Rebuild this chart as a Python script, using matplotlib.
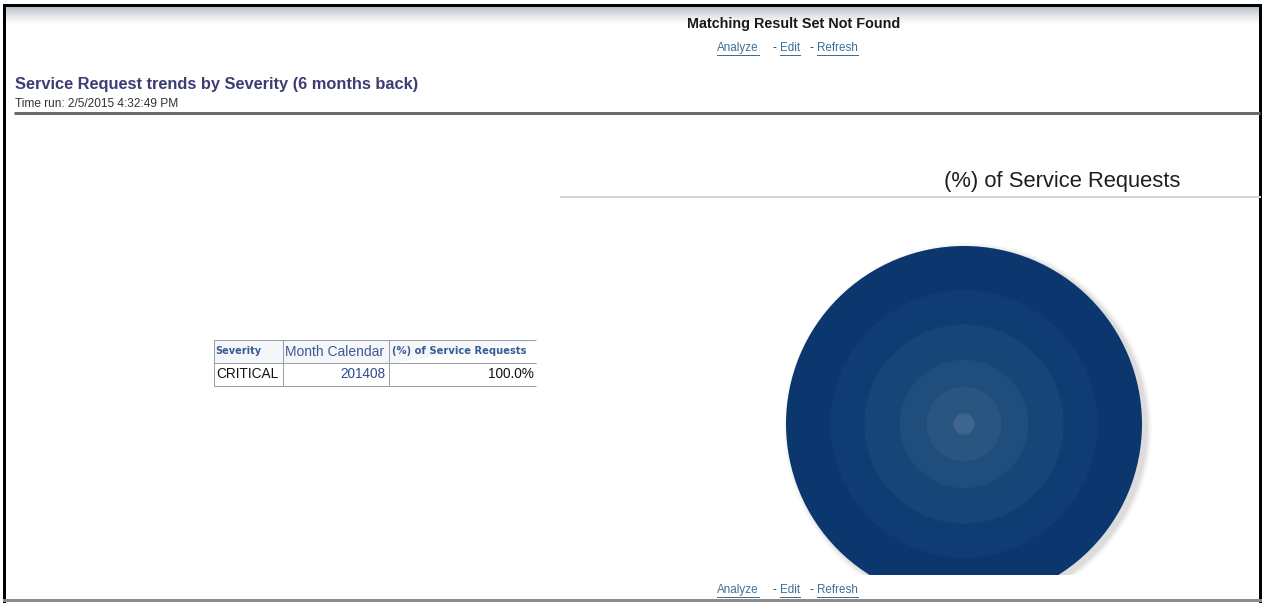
import numpy as np
import matplotlib
matplotlib.use('Agg')
import matplotlib.pyplot as plt

# report rows
severity = ['CRITICAL']
month_calendar = ['201408']
pct_requests = [100.0]

col_labels = ['Severity', 'Month Calendar', '(%) of Service Requests']
report_title = 'Service Request trends by Severity (6 months back)'
time_run = 'Time run: 2/5/2015 4:32:49 PM'
no_result_msg = 'Matching Result Set Not Found'
chart_title = '(%) of Service Requests'
links = ['Analyze', 'Edit', 'Refresh']

W, H = 1264, 604
PX = 0.72  # points per pixel at dpi=100

fig = plt.figure(figsize=(W / 100, H / 100), dpi=100)
fig.patch.set_facecolor('white')

# page canvas in pixel units, y downwards
ax = fig.add_axes([0, 0, 1, 1])
ax.set_xlim(0, W)
ax.set_ylim(H, 0)
ax.axis('off')

# header band gradient
grad = np.linspace(0, 1, 64).reshape(-1, 1)
top_c = np.array([0.70, 0.73, 0.77])
band = top_c + (1 - top_c) * grad[..., None] ** 0.8
band = np.repeat(band, 4, axis=1)
ax.imshow(band, extent=[4, 1260, 24, 6], aspect='auto', zorder=0)

# page frame
ax.plot([4, 1260], [5, 5], color='black', lw=3 * PX, solid_capstyle='butt')
ax.plot([4, 4], [5, 601], color='black', lw=3 * PX)
ax.plot([1260, 1260], [5, 601], color='black', lw=3 * PX)
ax.plot([4, 1260], [600, 600], color='#8c8c8c', lw=3 * PX)

base_font = ['Liberation Sans', 'DejaVu Sans']
wide_font = ['DejaVu Sans']
link_color = '#3f6f95'

ax.text(794, 24, no_result_msg, ha='center', va='center', fontsize=10.4,
        fontweight='bold', color='#1a1a1a', family=base_font)


def draw_links(y):
    xs = [717, 780, 817]
    for i, (word, x0) in enumerate(zip(links, xs)):
        t = ax.text(x0, y, word, ha='left', va='center', fontsize=8.4,
                    color=link_color, family=base_font)
        fig.canvas.draw()
        bb = t.get_window_extent(renderer=fig.canvas.get_renderer())
        inv = ax.transData.inverted()
        (xa, ya), (xb, yb) = inv.transform([[bb.x0, bb.y0], [bb.x1, bb.y1]])
        ax.plot([xa, xb], [ya + 1, ya + 1], color=link_color, lw=1 * PX)
        if i < len(links) - 1:
            ax.text(xs[i + 1] - 4, y, '-', ha='right', va='center',
                    fontsize=8.4, color='#333333', family=base_font)


draw_links(48)

ax.text(15, 85, report_title, ha='left', va='center', fontsize=11.8,
        fontweight='bold', color='#3d3d74', family=base_font)
ax.text(15, 104, time_run, ha='left', va='center', fontsize=8.6,
        color='#333333', family=base_font)
ax.plot([14, 1260], [113, 113], color='#6b6b6b', lw=3 * PX, solid_capstyle='butt')

# chart header
ax.text(1180, 181, chart_title, ha='right', va='center', fontsize=15.8,
        color='#1e1e1e', family=base_font)
ax.plot([561, 1260], [197, 197], color='#d2d6da', lw=2 * PX)

draw_links(590)

# pivot table
tx0, tx1, ty0, ty1 = 214, 536, 340, 386
col_w = np.array([69, 106, 147], dtype=float)
cell_text = [[s, m, f'{p:.1f}%'] for s, m, p in zip(severity, month_calendar, pct_requests)]
tbl = ax.table(cellText=cell_text, colLabels=col_labels,
               colWidths=list(col_w / col_w.sum()),
               bbox=[tx0 / W, 1 - ty1 / H, (tx1 - tx0) / W, (ty1 - ty0) / H])
tbl.auto_set_font_size(False)
header_fmt = [dict(fontsize=7.0, fontweight='bold', family=wide_font),
              dict(fontsize=10, fontweight='normal', family=base_font),
              dict(fontsize=7.2, fontweight='bold', family=wide_font)]
for (r, c), cell in tbl.get_celld().items():
    cell.set_edgecolor('#9a9fa8')
    cell.set_linewidth(1 * PX)
    txt = cell.get_text()
    txt.set_family(base_font)
    if r == 0:
        cell.set_facecolor('#f4f6fa')
        txt.set_color('#3b5b94')
        txt.set_fontsize(header_fmt[c]['fontsize'])
        txt.set_fontweight(header_fmt[c]['fontweight'])
        txt.set_family(header_fmt[c]['family'])
        cell.set_text_props(ha='left')
        cell.PAD = 0.02
    else:
        cell.set_facecolor('white')
        txt.set_fontsize(9.8)
        if c == 0:
            txt.set_color('#111111')
            cell.set_text_props(ha='left')
            cell.PAD = 0.03
        elif c == 1:
            txt.set_color('#2e4c88')
            cell.set_text_props(ha='right')
            cell.PAD = 0.03
        else:
            txt.set_color('#111111')
            cell.set_text_props(ha='right')
            cell.PAD = 0.015
    if c == 2:
        cell.visible_edges = 'BLT'

# pie chart, radial shading drawn as nested pies of the same data
cx, cy, R = 964, 424, 178
left_px, right_px, top_px, bot_px = 760, 1190, 222, 575
pax = fig.add_axes([left_px / W, (H - bot_px) / H,
                    (right_px - left_px) / W, (bot_px - top_px) / H])

# soft drop shadow
for k, a in enumerate([0.10, 0.08, 0.06, 0.04]):
    pax.add_patch(plt.Circle((4 / R, -3 / R), 1 + (k + 1) * 1.5 / R,
                             color='#7a7a7a', alpha=a, lw=0, zorder=0))

ring_r = [1.0, 0.75, 0.56, 0.36, 0.21, 0.06]
ring_c = ['#0b376e', '#0e3c73', '#164577', '#1f4e7c', '#285681', '#3d6590']
for r, c in zip(ring_r, ring_c):
    pax.pie(pct_requests, radius=r, colors=[c], startangle=90,
            wedgeprops=dict(linewidth=0))

# keep the disc inside the chart area
for p in pax.patches:
    p.set_clip_on(True)
    p.set_clip_path(pax.patch)

pax.set_aspect('auto')
pax.set_xlim((left_px - cx) / R, (right_px - cx) / R)
pax.set_ylim((cy - bot_px) / R, (cy - top_px) / R)
pax.axis('off')

fig.savefig('out.png', dpi=100)
